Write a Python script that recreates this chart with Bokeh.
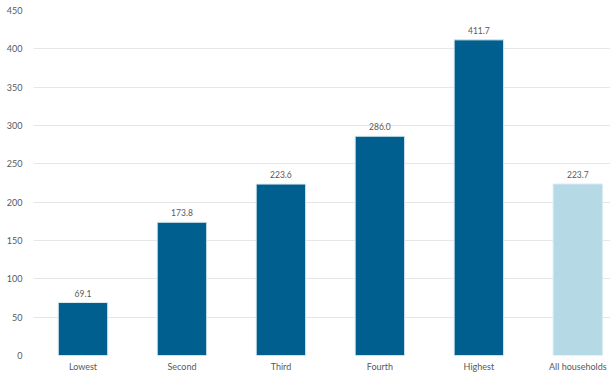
from bokeh.plotting import figure
from bokeh.models import ColumnDataSource, FixedTicker, Range1d
from bokeh.core.properties import value
from bokeh.embed import file_html
from bokeh.resources import INLINE

categories = ["Lowest", "Second", "Third", "Fourth", "Highest", "All households"]
values = [69.1, 173.8, 223.6, 286.0, 411.7, 223.7]
colors = ["#005f8f", "#005f8f", "#005f8f", "#005f8f", "#005f8f", "#b5d9e5"]
y_ticks = [0, 50, 100, 150, 200, 250, 300, 350, 400, 450]

FONT = "Lato"
TXT = "#595959"

x = list(range(len(categories)))
src = ColumnDataSource(dict(x=x, top=values, color=colors,
                            label=[f"{v:.1f}" for v in values]))

p = figure(width=610, height=378, output_backend="svg", toolbar_location=None,
           x_range=Range1d(-0.5, 5.33), y_range=Range1d(0, 450),
           min_border_left=33, min_border_right=0, min_border_top=10,
           min_border_bottom=23)
p.outline_line_color = None
p.background_fill_color = "white"
p.border_fill_color = "white"

p.vbar(x="x", top="top", width=0.5, bottom=0, color="color",
       line_color="#dcebf2", line_width=1, source=src)

p.text(x="x", y="top", text="label", source=src, text_align="center",
       text_baseline="bottom", y_offset=-6, text_font=value(FONT),
       text_font_size="8.5px", text_color=TXT)

p.xaxis.ticker = FixedTicker(ticks=x)
p.xaxis.major_label_overrides = {i: c for i, c in enumerate(categories)}
p.yaxis.ticker = FixedTicker(ticks=y_ticks)
for ax in (p.xaxis[0], p.yaxis[0]):
    ax.axis_line_color = None
    ax.major_tick_line_color = None
    ax.minor_tick_line_color = None
    ax.major_tick_out = 0
    ax.major_tick_in = 0
    ax.major_label_text_font = FONT
    ax.major_label_text_font_size = "9px"
    ax.major_label_text_color = TXT
p.xaxis.major_label_standoff = 5
p.yaxis.major_label_standoff = 11

p.xgrid.grid_line_color = None
p.ygrid.ticker = FixedTicker(ticks=y_ticks)
p.ygrid.grid_line_color = "#e6e6e6"
p.ygrid.grid_line_width = 1

open("out.html", "w").write(file_html(p, INLINE))
